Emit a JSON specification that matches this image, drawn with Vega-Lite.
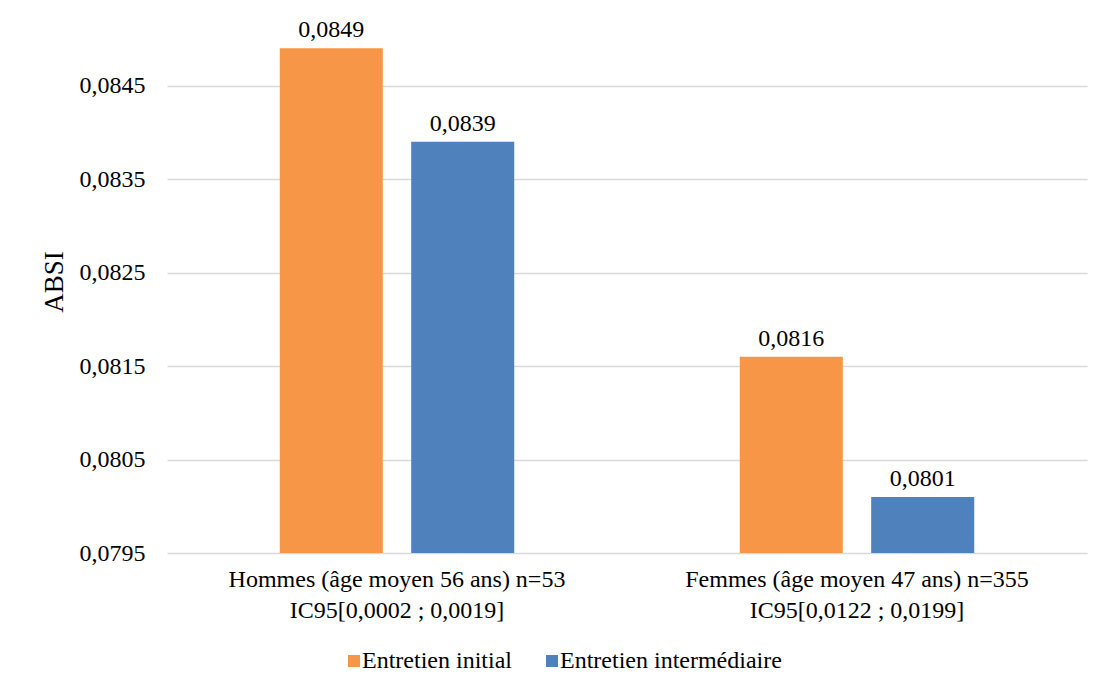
{
  "$schema": "https://vega.github.io/schema/vega-lite/v6.json",
  "width": 920,
  "height": 543,
  "autosize": "none",
  "padding": {"left": 167, "top": 10, "right": 23, "bottom": 140},
  "background": "white",
  "config": {
    "locale": {"number": {"decimal": ",", "thousands": " ", "grouping": [3], "currency": ["", " €"]}},
    "font": "Liberation Serif",
    "view": {"stroke": null},
    "text": {"font": "Liberation Serif"}
  },
  "data": {
    "values": [
      {"groupe": "Hommes (âge moyen 56 ans) n=53|IC95[0,0002 ; 0,0019]", "entretien": "Entretien initial", "ABSI": 0.0849},
      {"groupe": "Hommes (âge moyen 56 ans) n=53|IC95[0,0002 ; 0,0019]", "entretien": "Entretien intermédiaire", "ABSI": 0.0839},
      {"groupe": "Femmes (âge moyen 47 ans) n=355|IC95[0,0122 ; 0,0199]", "entretien": "Entretien initial", "ABSI": 0.0816},
      {"groupe": "Femmes (âge moyen 47 ans) n=355|IC95[0,0122 ; 0,0199]", "entretien": "Entretien intermédiaire", "ABSI": 0.0801}
    ]
  },
  "encoding": {
    "x": {
      "field": "groupe", "type": "nominal", "sort": null,
      "scale": {"paddingInner": 0, "paddingOuter": 0},
      "axis": {
        "title": null, "labelAngle": 0, "domain": false, "ticks": false,
        "labelExpr": "split(datum.label, '|')",
        "labelFontSize": 24, "labelFont": "Liberation Serif", "labelColor": "#000000",
        "labelLineHeight": 31, "labelPadding": 14, "labelLimit": 500
      }
    },
    "xOffset": {
      "field": "entretien", "type": "nominal",
      "scale": {"paddingInner": 0.216, "paddingOuter": 0.858}
    },
    "y": {
      "field": "ABSI", "type": "quantitative",
      "scale": {"domain": [0.0795, 0.08531], "zero": false, "nice": false},
      "axis": {
        "title": "ABSI", "titleFontSize": 27, "titleFontWeight": "normal", "titleFont": "Liberation Serif",
        "titleColor": "#000000", "titlePadding": 11,
        "values": [0.0795, 0.0805, 0.0815, 0.0825, 0.0835, 0.0845],
        "format": ".4f", "labelFontSize": 24, "labelFont": "Liberation Serif", "labelColor": "#000000",
        "labelPadding": 22, "domain": false, "ticks": false,
        "grid": true, "gridColor": "#D9D9D9", "gridWidth": 1.5
      }
    }
  },
  "layer": [
    {
      "mark": {"type": "bar"},
      "encoding": {
        "y2": {"datum": 0.0795},
        "color": {
          "field": "entretien", "type": "nominal",
          "scale": {"domain": ["Entretien initial", "Entretien intermédiaire"], "range": ["#F79646", "#4F81BD"]},
          "legend": {
            "title": null, "orient": "none", "direction": "horizontal",
            "legendX": 175, "legendY": 639,
            "symbolType": "square", "symbolSize": 144, "symbolStrokeWidth": 0,
            "labelFontSize": 24, "labelFont": "Liberation Serif", "labelColor": "#000000",
            "labelOffset": -4, "columnPadding": 28, "labelLimit": 400
          }
        }
      }
    },
    {
      "mark": {"type": "text", "baseline": "alphabetic", "dy": -11, "fontSize": 24, "color": "#000000"},
      "encoding": {
        "text": {"field": "ABSI", "type": "quantitative", "format": ".4f"}
      }
    }
  ]
}
